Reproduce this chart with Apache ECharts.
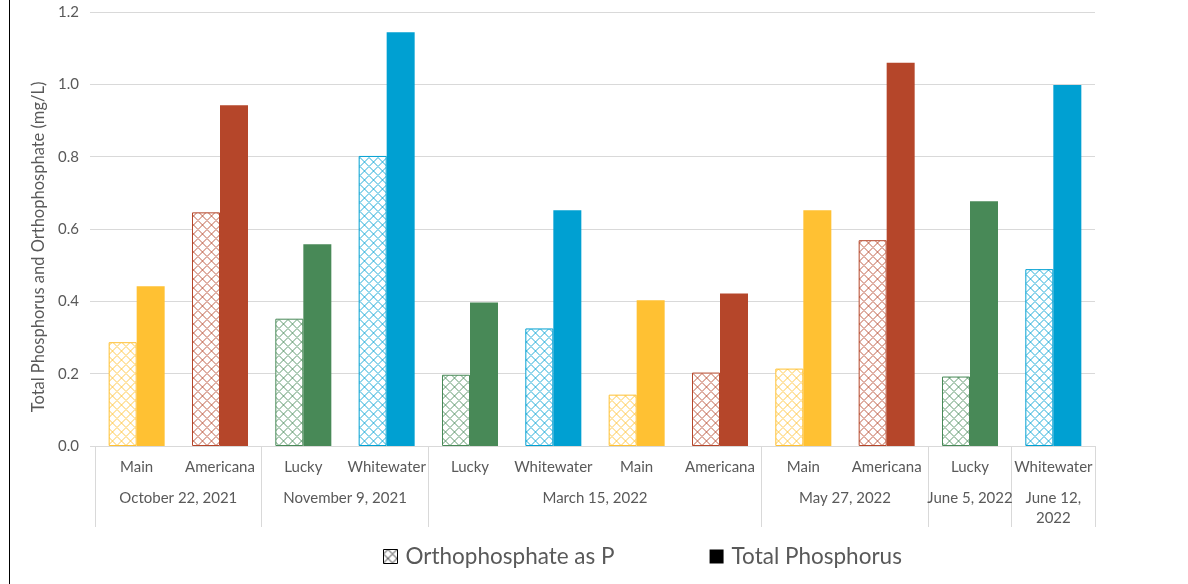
<!DOCTYPE html>
<html>
<head>
<meta charset="utf-8">
<script src="https://cdn.jsdelivr.net/npm/echarts@6/dist/echarts.min.js"></script>
<style>
  html, body { margin: 0; padding: 0; background: #fff; }
  #chart { width: 1188px; height: 584px; }
  #border { position: absolute; left: 9px; top: 0; width: 1px; height: 584px; background: #000; }
</style>
</head>
<body>
<div id="chart"></div>
<div id="border"></div>
<script>
// ---- data ----
const sites = ['Main', 'Americana', 'Lucky', 'Whitewater', 'Lucky', 'Whitewater', 'Main', 'Americana', 'Main', 'Americana', 'Lucky', 'Whitewater'];
const dates = ['October 22, 2021', 'November 9, 2021', 'March 15, 2022', 'May 27, 2022', 'June 5, 2022', 'June 12,\n2022'];
const dateGroupSizes = [2, 2, 4, 2, 1, 1];
const orthophosphate = [0.287, 0.646, 0.352, 0.802, 0.197, 0.325, 0.142, 0.203, 0.214, 0.569, 0.192, 0.489];
const totalPhosphorus = [0.442, 0.942, 0.558, 1.144, 0.397, 0.652, 0.403, 0.422, 0.652, 1.060, 0.677, 0.998];

const siteColors = { Main: '#FFC133', Americana: '#B5462A', Lucky: '#488957', Whitewater: '#00A0D2' };
const textColor = '#595959';
const gridColor = '#D9D9D9';
const FONT = 'Lato, "Liberation Sans", sans-serif';

function makePattern(color) {
  const s = 9;
  const c = document.createElement('canvas');
  c.width = s; c.height = s;
  const ctx = c.getContext('2d');
  ctx.fillStyle = '#fff';
  ctx.fillRect(0, 0, s, s);
  ctx.strokeStyle = color;
  ctx.lineWidth = 1;
  ctx.globalAlpha = 0.85;
  ctx.beginPath();
  ctx.moveTo(s / 2, 0);
  ctx.lineTo(s, s / 2);
  ctx.lineTo(s / 2, s);
  ctx.lineTo(0, s / 2);
  ctx.closePath();
  ctx.stroke();
  return { image: c, repeat: 'repeat' };
}

// group boundaries / centres from group sizes
const boundaries = [0];
const centres = [];
dateGroupSizes.forEach(n => {
  const start = boundaries[boundaries.length - 1];
  centres.push(start + n / 2);
  boundaries.push(start + n);
});

const orthoData = orthophosphate.map((v, i) => ({
  value: v,
  itemStyle: { color: makePattern(siteColors[sites[i]]), borderColor: siteColors[sites[i]], borderWidth: 1 }
}));
const totalData = totalPhosphorus.map((v, i) => ({
  value: v,
  itemStyle: { color: siteColors[sites[i]] }
}));

const chart = echarts.init(document.getElementById('chart'), null, { renderer: 'canvas' });
chart.setOption({
  animation: false,
  textStyle: { fontFamily: FONT },
  grid: { left: 95, right: 93, top: 12, bottom: 138, containLabel: false },
  legend: {
    bottom: 11,
    left: 378,
    itemGap: 95,
    itemWidth: 14,
    itemHeight: 14,
    textStyle: { color: textColor, fontSize: 22.5, fontFamily: FONT, padding: [0, 0, 0, 3] },
    data: [
      { name: 'Orthophosphate as P', icon: 'rect', itemStyle: { color: makePattern('#000'), borderColor: '#000', borderWidth: 1 } },
      { name: 'Total Phosphorus', icon: 'rect', itemStyle: { color: '#000' } }
    ]
  },
  xAxis: [
    {
      type: 'category',
      data: sites,
      axisLine: { show: true, lineStyle: { color: gridColor, width: 1 } },
      axisTick: { show: false },
      axisLabel: { color: textColor, fontSize: 15, margin: 14, interval: 0, fontFamily: FONT }
    },
    {
      type: 'value',
      position: 'bottom',
      min: 0,
      max: sites.length,
      axisLine: { show: false },
      splitLine: { show: false },
      axisTick: { show: true, inside: false, length: 81, customValues: boundaries, lineStyle: { color: gridColor, width: 1 } },
      axisLabel: {
        customValues: centres,
        color: textColor, fontSize: 15, margin: 42, fontFamily: FONT, lineHeight: 20,
        verticalAlign: 'top',
        formatter: function (v) {
          const idx = centres.findIndex(c => Math.abs(c - v) < 1e-6);
          return idx >= 0 ? dates[idx] : '';
        }
      }
    }
  ],
  yAxis: {
    type: 'value',
    min: 0,
    max: 1.2,
    interval: 0.2,
    name: 'Total Phosphorus and Orthophosphate (mg/L)',
    nameLocation: 'middle',
    nameGap: 33,
    nameTextStyle: { color: textColor, fontSize: 16.5, fontFamily: FONT, padding: [0, 36, 0, 0] },
    axisLine: { show: false },
    axisTick: { show: true, length: 5, lineStyle: { color: gridColor } },
    splitLine: { show: true, lineStyle: { color: gridColor, width: 1 } },
    axisLabel: {
      color: textColor, fontSize: 15, margin: 16, fontFamily: FONT,
      formatter: v => v.toFixed(1)
    }
  },
  series: [
    {
      name: 'Orthophosphate as P',
      type: 'bar',
      xAxisIndex: 0,
      barWidth: 28,
      barGap: '0%',
      itemStyle: { color: '#000' },
      data: orthoData
    },
    {
      name: 'Total Phosphorus',
      type: 'bar',
      xAxisIndex: 0,
      barWidth: 28,
      barGap: '0%',
      itemStyle: { color: '#000' },
      data: totalData
    }
  ]
});
</script>
</body>
</html>
